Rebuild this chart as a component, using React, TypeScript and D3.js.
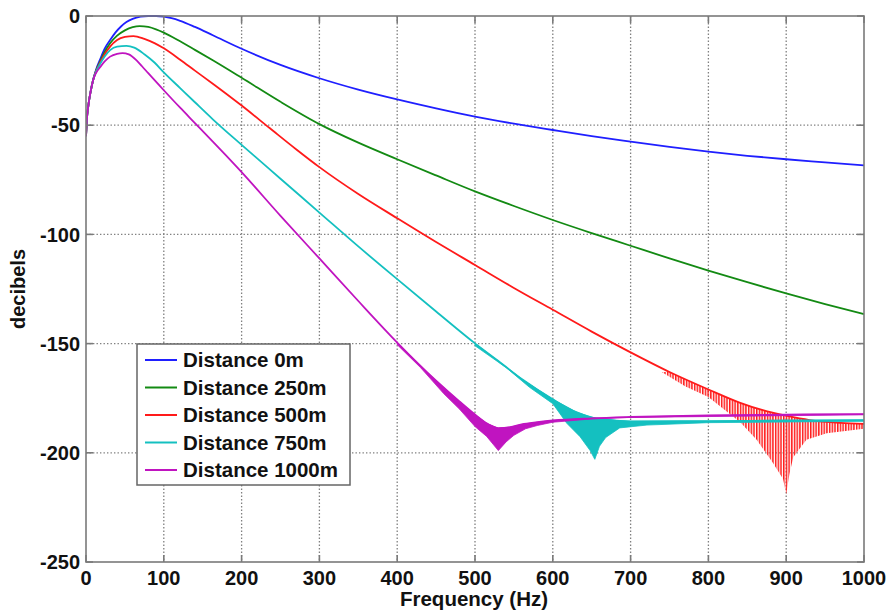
import React from "react";
import * as d3 from "d3";

// Frequency response (dB) versus frequency for several propagation distances
const FREQ_TICKS = [0, 100, 200, 300, 400, 500, 600, 700, 800, 900, 1000];
const DB_TICKS = [0, -50, -100, -150, -200, -250];

const SERIES_NAMES = ["Distance 0m", "Distance 250m", "Distance 500m", "Distance 750m", "Distance 1000m"];
const SERIES_COLORS = ["#1f1fff", "#138a13", "#ff1a1a", "#14c0c0", "#c014c0"];

const dist0: [number, number][] = [
  [0, -55], [1, -48], [3, -41], [6, -34.5], [9, -29.5], [13, -24.5], [18, -20], [24, -15], [31, -11],
  [38, -7.5], [45, -4.8], [52, -2.8], [60, -1.3], [70, -0.3], [80, 0], [90, 0], [100, -0.3],
  [110, -1], [121, -2.2], [140, -5], [163, -8.8], [200, -15], [250, -22.4], [300, -28.5], [350, -33.7],
  [400, -38.2], [450, -42.3], [500, -46.1], [550, -49.3], [600, -52.2], [650, -55], [700, -57.5],
  [750, -59.9], [800, -62.1], [850, -64], [900, -65.6], [950, -67], [1000, -68.4],
];

const dist250: [number, number][] = [
  [0, -55], [1, -48], [3, -41], [6, -34.5], [9, -29.5], [13, -25], [18, -21], [24, -16.5], [31, -12.5],
  [40, -9], [50, -6.6], [60, -5.1], [69, -4.6], [80, -5], [90, -6.1], [100, -7.6], [121, -11.6],
  [140, -15.5], [163, -20.3], [200, -28.3], [250, -39.3], [300, -49.5], [350, -58], [400, -65.6],
  [450, -73], [500, -80.3], [550, -87], [600, -93.4], [650, -99.4], [700, -105.2], [750, -111],
  [800, -116.6], [850, -121.9], [900, -127], [950, -131.9], [1000, -136.5],
];

const dist500: [number, number][] = [
  [0, -55], [1, -48], [3, -41], [6, -34.5], [9, -29.5], [13, -25.2], [18, -21.5], [24, -17.5], [31, -14],
  [40, -11], [50, -9.6], [61, -9.2], [75, -10.5], [88, -12.4], [100, -14.8], [121, -20], [140, -25],
  [163, -31], [200, -41], [236, -51.3], [270, -61], [300, -69.2], [350, -81.5], [400, -92.6],
  [450, -103.5], [500, -114], [550, -124.5], [600, -134.5], [650, -144.5], [700, -154], [750, -163],
  [800, -171], [840, -177], [870, -180.5], [900, -183], [930, -185], [970, -186.3], [1000, -186.8],
];

const dist750: [number, number][] = [
  [0, -55], [1, -48], [3, -41], [6, -34.5], [9, -29.5], [13, -25.5], [18, -22], [24, -18.5], [31, -15.6],
  [40, -14], [52, -13.7], [62, -14.5], [75, -17.5], [88, -21.3], [100, -25.8], [121, -33], [140, -39.5],
  [163, -47.3], [200, -59], [250, -74.5], [300, -90], [350, -105.5], [400, -120.5], [450, -135.3],
  [500, -149.9], [532, -158.5], [562, -166.7], [600, -175.5], [631, -181.5], [656, -184.3],
  [700, -185.6], [800, -185.5], [900, -185.2], [1000, -185],
];

const dist1000: [number, number][] = [
  [0, -55], [1, -48], [3, -41], [6, -34.5], [9, -29.5], [13, -26], [18, -23.5], [24, -20.8], [31, -18.6],
  [40, -17.3], [47, -17], [55, -17.6], [65, -20.3], [72, -23], [80, -26.2], [100, -34], [121, -42],
  [140, -49], [163, -57.5], [179, -63.5], [200, -71.5], [250, -91.5], [300, -111], [350, -130.5],
  [400, -149.5], [450, -167], [480, -176.5], [500, -182.5], [515, -186.5], [530, -188.7], [545, -188.3],
  [560, -187], [580, -186], [600, -185.2], [650, -184.2], [700, -183.6], [800, -182.9], [900, -182.5],
  [1000, -182.3],
];

// Lower envelopes of the oscillating (ripple) regions near each notch
const ripple500Low: [number, number][] = [
  [740, -163], [770, -169.5], [800, -174.5], [841, -186], [862, -194], [883, -204.7], [896, -212],
  [900, -219], [904, -210], [909, -202], [926, -194], [952, -191], [1000, -189],
];
const ripple750Low: [number, number][] = [
  [500, -151], [540, -161], [570, -170], [600, -177.5], [618, -186.5], [635, -192.6], [648, -199],
  [654, -203], [660, -197], [668, -193], [686, -188.6], [721, -187.3], [800, -186.2], [1000, -185.6],
];
const ripple1000Low: [number, number][] = [
  [400, -150.5], [430, -161], [460, -173], [480, -180], [500, -188], [515, -192.5], [530, -199],
  [540, -195], [550, -192], [565, -189], [580, -187.5], [600, -186], [650, -184.5], [700, -183.8],
  [1000, -182.6],
];

const SERIES = [dist0, dist250, dist500, dist750, dist1000];
const RIPPLES: { series: number; low: [number, number][]; striped: boolean }[] = [
  { series: 2, low: ripple500Low, striped: true },
  { series: 3, low: ripple750Low, striped: false },
  { series: 4, low: ripple1000Low, striped: false },
];

const W = 889;
const H = 613;
const PLOT = { left: 86, top: 16, right: 864, bottom: 562 };
const FONT = "'Liberation Sans', Arial, sans-serif";

export default function App() {
  const x = d3.scaleLinear().domain([0, 1000]).range([PLOT.left, PLOT.right]);
  const y = d3.scaleLinear().domain([-250, 0]).range([PLOT.bottom, PLOT.top]);

  const line = d3
    .line<[number, number]>()
    .x((d) => x(d[0]))
    .y((d) => y(d[1]))
    .curve(d3.curveMonotoneX);

  const rippleLine = d3
    .line<[number, number]>()
    .x((d) => x(d[0]))
    .y((d) => y(d[1]))
    .curve(d3.curveLinear);

  const ripplePath = (series: [number, number][], low: [number, number][]) => {
    const start = low[0][0];
    const end = low[low.length - 1][0];
    const upper = series.filter((d) => d[0] >= start && d[0] <= end);
    const poly = [...upper, ...[...low].reverse()];
    return rippleLine(poly) + "Z";
  };

  const tickLen = 7;
  const gridColor = "#808080";
  const axisColor = "#7a7a7a";

  return (
    <div style={{ position: "fixed", left: 0, top: 0 }}>
      <svg width={W} height={H} style={{ display: "block", background: "#fff" }}>
        <defs>
          <pattern id="redStripes" patternUnits="userSpaceOnUse" width={2.7} height={10}>
            <rect x={0} y={0} width={1.5} height={10} fill={SERIES_COLORS[2]} />
          </pattern>
          <clipPath id="plotClip">
            <rect x={PLOT.left} y={PLOT.top - 1} width={PLOT.right - PLOT.left} height={PLOT.bottom - PLOT.top + 1} />
          </clipPath>
        </defs>

        {/* grid */}
        {FREQ_TICKS.filter((t) => t > 0 && t < 1000).map((t) => (
          <line key={"gx" + t} x1={x(t)} x2={x(t)} y1={PLOT.top} y2={PLOT.bottom}
            stroke={gridColor} strokeWidth={1.3} strokeDasharray="1.4,2.1" />
        ))}
        {DB_TICKS.filter((t) => t < 0 && t > -250).map((t) => (
          <line key={"gy" + t} x1={PLOT.left} x2={PLOT.right} y1={y(t)} y2={y(t)}
            stroke={gridColor} strokeWidth={1.3} strokeDasharray="1.4,2.1" />
        ))}

        {/* curves */}
        <g clipPath="url(#plotClip)">
          {SERIES.map((s, i) => (
            <g key={"s" + i}>
              {RIPPLES.filter((r) => r.series === i).map((r, j) => (
                <path key={"r" + j} d={ripplePath(s, r.low)}
                  fill={r.striped ? "url(#redStripes)" : SERIES_COLORS[i]}
                  stroke={r.striped ? "none" : SERIES_COLORS[i]} strokeWidth={0.8} />
              ))}
              <path d={line(s) ?? ""} fill="none" stroke={SERIES_COLORS[i]} strokeWidth={1.8} />
            </g>
          ))}
        </g>

        {/* axes box and ticks */}
        <rect x={PLOT.left} y={PLOT.top} width={PLOT.right - PLOT.left} height={PLOT.bottom - PLOT.top}
          fill="none" stroke={axisColor} strokeWidth={1.6} />
        {FREQ_TICKS.map((t) => (
          <g key={"tx" + t}>
            <line x1={x(t)} x2={x(t)} y1={PLOT.bottom} y2={PLOT.bottom - tickLen} stroke={axisColor} strokeWidth={1.6} />
            <line x1={x(t)} x2={x(t)} y1={PLOT.top} y2={PLOT.top + tickLen} stroke={axisColor} strokeWidth={1.6} />
            <text x={x(t)} y={585} textAnchor="middle" fontFamily={FONT} fontWeight="bold" fontSize={20} fill="#111">
              {t}
            </text>
          </g>
        ))}
        {DB_TICKS.map((t) => (
          <g key={"ty" + t}>
            <line x1={PLOT.left} x2={PLOT.left + tickLen} y1={y(t)} y2={y(t)} stroke={axisColor} strokeWidth={1.6} />
            <line x1={PLOT.right} x2={PLOT.right - tickLen} y1={y(t)} y2={y(t)} stroke={axisColor} strokeWidth={1.6} />
            <text x={80} y={y(t)} dy="0.36em" textAnchor="end" fontFamily={FONT} fontWeight="bold" fontSize={20} fill="#111">
              {t}
            </text>
          </g>
        ))}

        {/* axis titles */}
        <text x={474} y={606} textAnchor="middle" fontFamily={FONT} fontWeight="bold" fontSize={20.5} fill="#111">
          Frequency (Hz)
        </text>
        <text transform={`translate(25, ${(PLOT.top + PLOT.bottom) / 2}) rotate(-90)`} textAnchor="middle"
          fontFamily={FONT} fontWeight="bold" fontSize={20} fill="#111">
          decibels
        </text>

        {/* legend */}
        <g>
          <rect x={137} y={344} width={213} height={141} fill="#fff" stroke="#666" strokeWidth={1.5} />
          {SERIES_NAMES.map((name, i) => {
            const cy = 360 + i * 27.5;
            return (
              <g key={"lg" + i}>
                <line x1={145} x2={177} y1={cy} y2={cy} stroke={SERIES_COLORS[i]} strokeWidth={2} />
                <text x={183} y={cy + 7.2} fontFamily={FONT} fontWeight="bold" fontSize={20.5} fill="#111">
                  {name}
                </text>
              </g>
            );
          })}
        </g>
      </svg>
    </div>
  );
}
